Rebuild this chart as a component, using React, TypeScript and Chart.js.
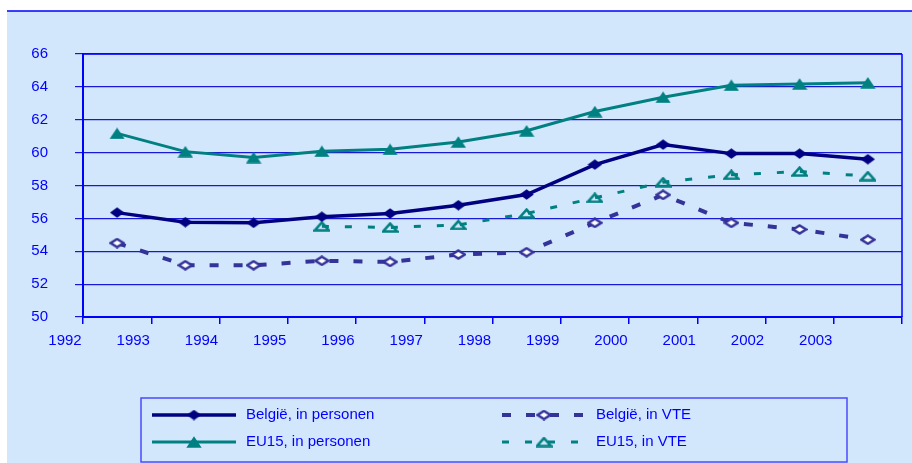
import React, { useEffect, useRef } from 'react';
import { Chart, registerables } from 'chart.js';

Chart.register(...registerables);

// ---- data ----
const years = [1992, 1993, 1994, 1995, 1996, 1997, 1998, 1999, 2000, 2001, 2002, 2003];
const belgiePersonen = [56.35, 55.77, 55.73, 56.1, 56.3, 56.8, 57.45, 59.27, 60.49, 59.94, 59.94, 59.6];
const belgieVTE = [54.5, 53.15, 53.15, 53.42, 53.35, 53.8, 53.94, 55.73, 57.43, 55.73, 55.33, 54.7];
const eu15Personen = [61.17, 60.06, 59.7, 60.08, 60.2, 60.65, 61.33, 62.5, 63.37, 64.1, 64.18, 64.25];
const eu15VTE: (number | null)[] = [null, null, null, 55.52, 55.45, 55.6, 56.3, 57.25, 58.2, 58.65, 58.85, 58.57];
const xTickLabels = ['1992', '1993', '1994', '1995', '1996', '1997', '1998', '1999', '2000', '2001', '2002', '2003'];
const seriesLabels = ['België, in personen', 'België, in VTE', 'EU15, in personen', 'EU15, in VTE'];
const xMin = 1992;
const xMax = 2004;
const yMin = 50;
const yMax = 66;
const yStep = 2;

const FONT = '"Liberation Sans", Arial, sans-serif';
const BG = '#D3E7FC';
const BLUE = '#0000FF';
const NAVY = '#000080';
const TEAL = '#008080';
const SLATE = '#333399';

function makeMarker(kind: string, w: number, h: number, fill: string | null, stroke: string | null, lw: number) {
  const c = document.createElement('canvas');
  c.width = w;
  c.height = h;
  const ctx = c.getContext('2d')!;
  const i = stroke ? lw / 2 + 0.3 : 0.3;
  ctx.beginPath();
  if (kind === 'diamond') {
    ctx.moveTo(w / 2, i);
    ctx.lineTo(w - i, h / 2);
    ctx.lineTo(w / 2, h - i);
    ctx.lineTo(i, h / 2);
  } else {
    ctx.moveTo(w / 2, i);
    ctx.lineTo(w - i, h - i);
    ctx.lineTo(i, h - i);
  }
  ctx.closePath();
  if (fill) {
    ctx.fillStyle = fill;
    ctx.fill();
  }
  if (stroke) {
    ctx.strokeStyle = stroke;
    ctx.lineWidth = lw;
    ctx.lineJoin = 'miter';
    ctx.stroke();
  }
  return c;
}

export default function App() {
  const ref = useRef<HTMLCanvasElement | null>(null);

  useEffect(() => {
    if (!ref.current) return;
    const mBelP = makeMarker('diamond', 15, 11, NAVY, null, 0);
    const mBelV = makeMarker('diamond', 16, 11, '#FFFFFF', SLATE, 2.5);
    const mEuP = makeMarker('triangle', 16, 12, TEAL, null, 0);
    const mEuV = makeMarker('triangle', 17, 11, null, TEAL, 2.5);

    const xs = years.map((y) => y + 0.5);
    const pts = (arr: (number | null)[]) => arr.map((v, i) => ({ x: xs[i], y: v }));

    const datasets: any[] = [
      {
        label: seriesLabels[0],
        data: pts(belgiePersonen),
        borderColor: NAVY,
        borderWidth: 3.5,
        pointStyle: mBelP,
        _marker: mBelP,
      },
      {
        label: seriesLabels[1],
        data: pts(belgieVTE),
        borderColor: SLATE,
        borderWidth: 4,
        borderDash: [9, 15],
        pointStyle: mBelV,
        _marker: mBelV,
      },
      {
        label: seriesLabels[2],
        data: pts(eu15Personen),
        borderColor: TEAL,
        borderWidth: 3,
        pointStyle: mEuP,
        _marker: mEuP,
      },
      {
        label: seriesLabels[3],
        data: pts(eu15VTE),
        borderColor: TEAL,
        borderWidth: 3,
        borderDash: [7, 16],
        pointStyle: mEuV,
        _marker: mEuV,
      },
    ];
    datasets.forEach((d) => {
      d.fill = false;
      d.tension = 0;
      d.pointRadius = 6;
      d.backgroundColor = d.borderColor;
    });

    const bgPlugin = {
      id: 'bgPlugin',
      beforeDraw(chart: any) {
        const ctx = chart.ctx;
        ctx.save();
        ctx.fillStyle = '#FFFFFF';
        ctx.fillRect(0, 0, chart.width, chart.height);
        ctx.fillStyle = BG;
        ctx.fillRect(7, 11, chart.width - 7, chart.height - 11);
        ctx.strokeStyle = BLUE;
        ctx.lineWidth = 1.5;
        ctx.beginPath();
        ctx.moveTo(7, 11);
        ctx.lineTo(chart.width, 11);
        ctx.stroke();
        ctx.restore();
      },
      beforeDatasetsDraw(chart: any) {
        const ctx = chart.ctx;
        const a = chart.chartArea;
        ctx.save();
        ctx.strokeStyle = BLUE;
        ctx.lineWidth = 1.5;
        ctx.beginPath();
        ctx.moveTo(a.right, a.top);
        ctx.lineTo(a.right, a.bottom);
        ctx.moveTo(a.left, a.top);
        ctx.lineTo(a.right, a.top);
        ctx.stroke();
        ctx.restore();
      },
      afterDraw(chart: any) {
        const ctx = chart.ctx;
        ctx.save();
        // legend box
        ctx.fillStyle = BG;
        ctx.fillRect(141, 398, 706, 64);
        ctx.strokeStyle = '#4A4AFF';
        ctx.lineWidth = 1.5;
        ctx.strokeRect(141, 398, 706, 64);
        const slots = [
          { x: 152, y: 415 },
          { x: 502, y: 415 },
          { x: 152, y: 442 },
          { x: 502, y: 442 },
        ];
        chart.data.datasets.forEach((ds: any, i: number) => {
          const s = slots[i];
          const len = 84;
          ctx.save();
          ctx.strokeStyle = ds.borderColor;
          ctx.lineWidth = ds.borderWidth;
          ctx.setLineDash(ds.borderDash || []);
          ctx.beginPath();
          ctx.moveTo(s.x, s.y);
          ctx.lineTo(s.x + len, s.y);
          ctx.stroke();
          ctx.restore();
          const m = ds._marker;
          ctx.drawImage(m, s.x + len / 2 - m.width / 2, s.y - m.height / 2);
          ctx.fillStyle = BLUE;
          ctx.font = '15px ' + FONT;
          ctx.textBaseline = 'middle';
          ctx.textAlign = 'left';
          ctx.fillText(ds.label, s.x + len + 10, s.y);
        });
        ctx.restore();
      },
    };

    const chart = new Chart(ref.current, {
      type: 'line',
      data: { datasets },
      plugins: [bgPlugin],
      options: {
        animation: false,
        responsive: false,
        devicePixelRatio: 1,
        layout: { padding: { left: 0, top: 54, right: 9, bottom: 0 } },
        plugins: {
          legend: { display: false },
          tooltip: { enabled: false },
          title: { display: false },
        },
        scales: {
          x: {
            type: 'linear',
            min: xMin,
            max: xMax,
            afterFit: (scale: any) => {
              scale.height = 146;
            },
            ticks: {
              stepSize: 1,
              color: BLUE,
              font: { family: FONT, size: 15 },
              padding: 8,
              labelOffset: -18,
              maxRotation: 0,
              autoSkip: false,
              callback: (v: any) => {
                const idx = xTickLabels.indexOf(String(v));
                return idx >= 0 ? xTickLabels[idx] : '';
              },
            },
            grid: {
              drawOnChartArea: false,
              drawTicks: true,
              tickLength: 7,
              color: BLUE,
              lineWidth: 1.5,
            },
            border: { display: true, color: BLUE, width: 2 },
          },
          y: {
            min: yMin,
            max: yMax,
            afterFit: (scale: any) => {
              scale.width = 83;
            },
            ticks: {
              stepSize: yStep,
              color: BLUE,
              font: { family: FONT, size: 15 },
              padding: 27,
            },
            grid: {
              color: '#1818D8',
              lineWidth: 1.2,
              tickLength: 8,
            },
            border: { display: true, color: BLUE, width: 2 },
          },
        },
      } as any,
    });
    return () => chart.destroy();
  }, []);

  return (
    <div style={{ position: 'fixed', left: 0, top: 0, width: 912, height: 463 }}>
      <canvas ref={ref} width={912} height={463} style={{ display: 'block', width: 912, height: 463 }} />
    </div>
  );
}
